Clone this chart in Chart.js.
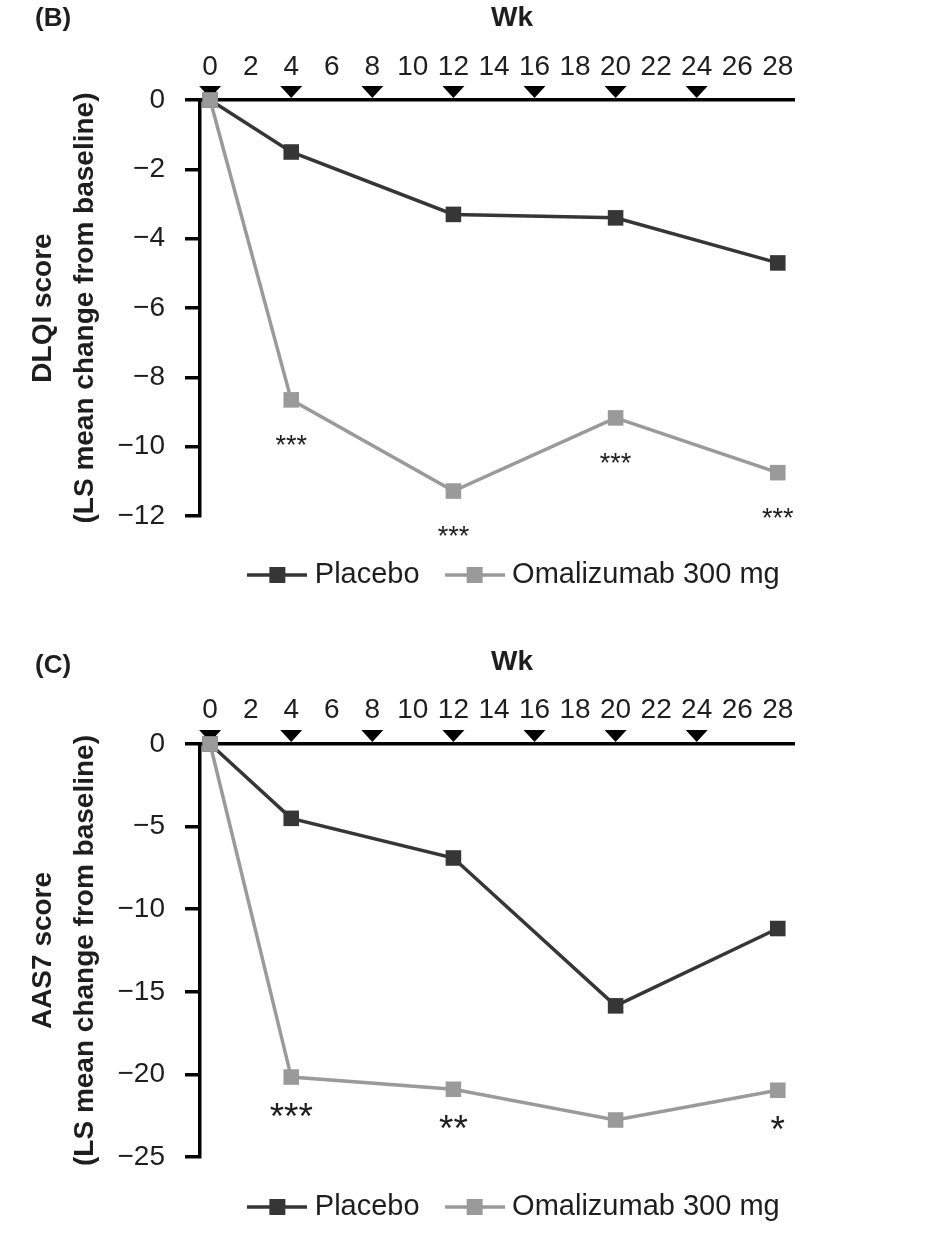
<!DOCTYPE html>
<html>
<head>
<meta charset="utf-8">
<script src="https://cdn.jsdelivr.net/npm/chart.js@4.4.0/dist/chart.umd.min.js"></script>
<style>
  body { margin: 0; background: #fff; }
  .panel { position: relative; width: 948px; height: 622px; }
</style>
</head>
<body>
<div class="panel"><canvas id="chartB"></canvas></div>
<div class="panel"><canvas id="chartC"></canvas></div>
<script>
// visit weeks and axis ticks
const weeks = [0, 4, 12, 20, 28];
const weekTicks = [0, 2, 4, 6, 8, 10, 12, 14, 16, 18, 20, 22, 24, 26, 28];
const dosingWeeks = [0, 4, 8, 12, 16, 20, 24];
const seriesNames = ['Placebo', 'Omalizumab 300 mg'];

// (B) DLQI score
const dlqiPlacebo = [0, -1.5, -3.3, -3.4, -4.7];
const dlqiOmalizumab = [0, -8.65, -11.28, -9.17, -10.75];
const dlqiStars = ['', '***', '***', '***', '***'];
const dlqiTicks = [0, -2, -4, -6, -8, -10, -12];

// (C) AAS7 score
const aasPlacebo = [0, -4.5, -6.9, -15.85, -11.17];
const aasOmalizumab = [0, -20.16, -20.9, -22.76, -20.96];
const aasStars = ['', '***', '**', '', '*'];
const aasTicks = [0, -5, -10, -15, -20, -25];

const FONT = "'Liberation Sans', Arial, Helvetica, sans-serif";
const TEXT = '#1e1e1e';
const PLACEBO_COLOR = '#363636';
const OMA_COLOR = '#9a9a9a';
Chart.defaults.font.family = FONT;

// black triangles above the axis = dosing visits
const dosingMarks = {
  id: 'dosingMarks',
  beforeDatasetsDraw(chart) {
    const xs = chart.scales.x;
    const top = chart.chartArea.top;
    const ctx = chart.ctx;
    ctx.save();
    ctx.fillStyle = '#000';
    dosingWeeks.forEach(w => {
      const px = xs.getPixelForValue(w);
      ctx.beginPath();
      ctx.moveTo(px - 11, top - 14);
      ctx.lineTo(px + 11, top - 14);
      ctx.lineTo(px, top - 2);
      ctx.closePath();
      ctx.fill();
    });
    ctx.restore();
  }
};

// significance asterisks under the omalizumab points
const sigStars = {
  id: 'sigStars',
  afterDatasetsDraw(chart, args, opts) {
    const meta = chart.getDatasetMeta(1);
    const ctx = chart.ctx;
    ctx.save();
    ctx.font = opts.size + 'px ' + FONT;
    ctx.fillStyle = TEXT;
    ctx.textAlign = 'center';
    ctx.textBaseline = 'alphabetic';
    opts.labels.forEach((s, i) => {
      if (!s) return;
      const pt = meta.data[i];
      ctx.fillText(s, pt.x, pt.y + opts.offset);
    });
    ctx.restore();
  }
};

// panel letter and "Wk" title
const panelText = {
  id: 'panelText',
  afterLayout(chart) {
    // legend sits a little right of the plot centre in the original
    if (chart.legend) {
      chart.legend.left += 20;
      chart.legend.right += 20;
    }
  },
  afterDraw(chart, args, opts) {
    const ctx = chart.ctx;
    const a = chart.chartArea;
    ctx.save();
    ctx.fillStyle = TEXT;
    ctx.textBaseline = 'middle';
    ctx.font = 'bold 26px ' + FONT;
    ctx.textAlign = 'left';
    ctx.fillText(opts.label, 35, opts.labelY);
    ctx.font = 'bold 28px ' + FONT;
    ctx.textAlign = 'center';
    ctx.fillText('Wk', (a.left + a.right) / 2 + 15, opts.titleY);
    ctx.restore();
  }
};

function legendIcon(color) {
  const c = document.createElement('canvas');
  c.width = 60;
  c.height = 18;
  const g = c.getContext('2d');
  g.strokeStyle = color;
  g.lineWidth = 3.5;
  g.beginPath();
  g.moveTo(0, 9);
  g.lineTo(60, 9);
  g.stroke();
  g.fillStyle = color;
  g.fillRect(22, 1, 16, 16);
  return c;
}

function toPoints(vals) {
  return weeks.map((w, i) => ({ x: w, y: vals[i] }));
}

function makeChart(id, cfg) {
  const ctx = document.getElementById(id);
  return new Chart(ctx, {
    type: 'line',
    data: {
      datasets: [
        {
          label: seriesNames[0],
          data: toPoints(cfg.placebo),
          borderColor: PLACEBO_COLOR,
          backgroundColor: PLACEBO_COLOR,
          borderWidth: 3.5,
          pointStyle: 'rect',
          pointRadius: 11,
          pointHoverRadius: 11,
          pointBorderWidth: 0,
          clip: false,
          order: 1
        },
        {
          label: seriesNames[1],
          data: toPoints(cfg.omalizumab),
          borderColor: OMA_COLOR,
          backgroundColor: OMA_COLOR,
          borderWidth: 3.5,
          pointStyle: 'rect',
          pointRadius: 11,
          pointHoverRadius: 11,
          pointBorderWidth: 0,
          clip: false,
          order: 0
        }
      ]
    },
    options: {
      responsive: true,
      maintainAspectRatio: false,
      animation: false,
      layout: { padding: { top: 0, left: 0, right: 154, bottom: cfg.padBottom } },
      scales: {
        x: {
          type: 'linear',
          position: 'top',
          min: -0.5,
          max: 28.8,
          afterBuildTicks: s => { s.ticks = weekTicks.map(v => ({ value: v })); },
          afterFit: s => { s.height = cfg.axisTop; },
          grid: { display: false, drawTicks: false },
          border: { display: true, width: 3.5, color: '#000' },
          ticks: {
            autoSkip: false,
            maxRotation: 0,
            padding: cfg.xPad,
            color: TEXT,
            font: { size: 28 }
          }
        },
        y: {
          min: cfg.ticks[cfg.ticks.length - 1],
          max: 0,
          afterBuildTicks: s => { s.ticks = cfg.ticks.map(v => ({ value: v })); },
          afterFit: s => { s.width = 200; },
          grid: { drawOnChartArea: false, tickLength: 15, lineWidth: 3.5, color: '#000' },
          border: { width: 3.5, color: '#000' },
          ticks: {
            padding: 20,
            color: TEXT,
            font: { size: 28 },
            callback: v => v < 0 ? '\u2212' + Math.abs(v) : String(v)
          },
          title: {
            display: true,
            text: cfg.yTitle,
            color: TEXT,
            font: { size: 28, weight: 'bold', lineHeight: 1.5 },
            padding: { top: 22, bottom: 0 }
          }
        }
      },
      plugins: {
        tooltip: { enabled: false },
        legend: {
          position: 'bottom',
          fullSize: false,
          // empty title only used as a spacer above the legend row
          title: { display: true, text: '', font: { size: 2, lineHeight: 1 }, padding: { top: cfg.legendGap, bottom: 0 } },
          labels: {
            usePointStyle: true,
            pointStyleWidth: 46,
            padding: 32,
            color: TEXT,
            font: { size: 29 },
            generateLabels: chart => chart.data.datasets.map((ds, i) => ({
              text: ds.label,
              pointStyle: legendIcon(ds.borderColor),
              datasetIndex: i,
              hidden: false,
              lineWidth: 0,
              fillStyle: ds.borderColor,
              strokeStyle: ds.borderColor,
              fontColor: TEXT
            }))
          }
        },
        sigStars: { labels: cfg.stars, size: cfg.starSize, offset: cfg.starOffset },
        panelText: { label: cfg.label, labelY: cfg.labelY, titleY: cfg.titleY }
      }
    },
    plugins: [dosingMarks, sigStars, panelText]
  });
}

makeChart('chartB', {
  placebo: dlqiPlacebo,
  omalizumab: dlqiOmalizumab,
  stars: dlqiStars,
  ticks: dlqiTicks,
  yTitle: ['DLQI score', '(LS mean change from baseline)'],
  label: '(B)',
  labelY: 19,
  titleY: 18,
  axisTop: 100,
  xPad: 16.4,
  padBottom: 22.5,
  legendGap: 10.5,
  starSize: 27,
  starOffset: 54
});

makeChart('chartC', {
  placebo: aasPlacebo,
  omalizumab: aasOmalizumab,
  stars: aasStars,
  ticks: aasTicks,
  yTitle: ['AAS7 score', '(LS mean change from baseline)'],
  label: '(C)',
  labelY: 44,
  titleY: 40,
  axisTop: 122,
  xPad: 17.2,
  padBottom: 12.5,
  legendGap: 1.5,
  starSize: 37,
  starOffset: 52
});
</script>
</body>
</html>
